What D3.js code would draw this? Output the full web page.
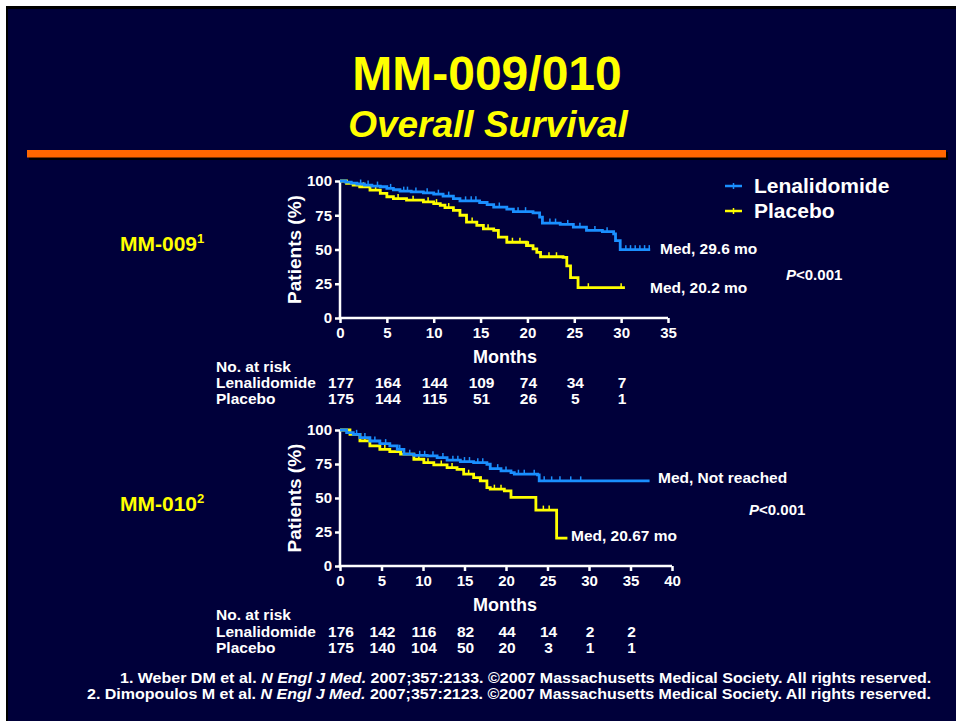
<!DOCTYPE html>
<html>
<head>
<meta charset="utf-8">
<script src="https://cdn.jsdelivr.net/npm/d3@7/dist/d3.min.js"></script>
<style>
  html, body { margin: 0; padding: 0; background: #ffffff; }
  svg { display: block; }
  text { font-family: "Liberation Sans", Arial, Helvetica, sans-serif; font-weight: bold; }
</style>
</head>
<body>
<svg id="slide" width="956" height="721"></svg>
<script>
// ---- Kaplan-Meier step points: [month, % surviving] ----
const mm009Lenalidomide = [[0,100],[0.6,99.2],[1.2,98.4],[1.8,97.8],[2.6,97],[3.4,96.3],[4.3,95.8],[5,94.6],[5.7,93.6],[6.4,92.6],[7.6,92],[8.9,91.4],[10,90.4],[11,89],[12.1,87.2],[12.8,85.5],[14.9,84.3],[15.7,82.8],[16.4,81],[17.8,79.4],[18.5,77.6],[20.6,76.7],[21.3,73.7],[21.6,69.3],[23.5,68.3],[24.9,66.3],[26.3,63.9],[28,63],[29.2,61.4],[29.4,56.5],[29.9,49.9],[33.1,49.9]];
const mm009Placebo = [[0,100],[0.7,98.3],[1.4,97],[2.1,95.8],[3.2,93.4],[4.3,90.9],[5,88.5],[5.7,87.2],[7.1,86],[8.9,84.8],[10,83.5],[10.7,82.3],[11.2,80.6],[12.1,78.6],[12.8,75],[13.5,70],[14.6,67.6],[15.3,65.1],[16.4,63.9],[16.9,59],[17.8,55.3],[19.9,52.8],[20.6,50.4],[21,47.9],[21.4,44.7],[23.8,44.2],[24.2,38],[24.6,29.5],[25.4,22.1],[30.4,22.1]];
const mm010Lenalidomide = [[0,100],[0.8,98],[1.6,96.8],[2.4,94.4],[3.6,91.9],[4.8,90],[6,88.3],[6.9,85.8],[7.7,82.2],[8.9,81.4],[10.5,81],[11.7,79.7],[12.9,77.8],[14.5,76.8],[16.1,76],[17.7,74.8],[18.1,71.6],[19.4,69.9],[20.6,68.7],[21,67.5],[23.8,67],[24,62.6],[37.3,62.6]];
const mm010Placebo = [[0,100],[1.2,96.8],[2.4,92],[3.6,88.3],[4.8,85.8],[6,84.1],[7.3,82.2],[8.9,78.5],[10.1,76],[11.3,74.3],[12.9,72.4],[14.1,71.1],[14.9,67.5],[16.1,65],[16.9,62.6],[17.7,57.7],[18.1,56.5],[19.8,55.3],[20.6,50.4],[23.6,41.1],[26.1,20.5],[27.4,20.5]];

// ---- censoring times (months) ----
const mm009LenCensor = [2.2,3,4,5.4,6.8,7.2,8.1,9.3,10.5,11.6,13.4,14,14.5,17,19,19.8,22.4,23,24.3,25.6,27.2,28.5,30.5,31,31.5,32,32.5,33];
const mm009PlaCensor = [2.5,3.8,6.2,7.8,9.4,10.3,11.6,14.1,15.8,18.4,19.2,20.1,22.3,23.1,26.5,30];
const mm010LenCensor = [2,3,4.2,5.5,7.2,8.4,9.6,10.2,11.2,12.4,13.6,14.2,15,15.6,16.6,17.2,19,20,21.5,22.2,23.4,24.6,25.5,26.5,27.8,29];
const mm010PlaCensor = [3,5.4,7.7,9.5,10.6,12.2,13.5,15.5,17,18.6,19.4,24.5,25.2];

// ---- axis ticks ----
const yTicks = [0, 25, 50, 75, 100];
const mm009MonthTicks = [0,5,10,15,20,25,30,35];
const mm010MonthTicks = [0,5,10,15,20,25,30,35,40];

// ---- numbers at risk ----
const mm009RiskMonths = [0,5,10,15,20,25,30];
const mm009RiskLen = [177,164,144,109,74,34,7];
const mm009RiskPla = [175,144,115,51,26,5,1];
const mm010RiskMonths = [0,5,10,15,20,25,30,35];
const mm010RiskLen = [176,142,116,82,44,14,2,2];
const mm010RiskPla = [175,140,104,50,20,3,1,1];

const seriesNames = ["Lenalidomide", "Placebo"];
const colLen = "#1a8fff";
const colPla = "#ffff00";
const navy = "#00003a";

const svg = d3.select("#slide");

// slide frame
svg.append("rect").attr("x", 6).attr("y", 6).attr("width", 950).attr("height", 715).attr("fill", "#000");
svg.append("rect").attr("x", 8).attr("y", 9).attr("width", 948).attr("height", 712).attr("fill", navy);

// titles
svg.append("text").attr("x", 487).attr("y", 90).attr("text-anchor", "middle")
  .attr("fill", "#ffff00").attr("font-size", 48).text("MM-009/010");
svg.append("text").attr("x", 488).attr("y", 137).attr("text-anchor", "middle")
  .attr("fill", "#ffff00").attr("font-size", 37).attr("font-style", "italic").text("Overall Survival");

// orange rule with shadow
svg.append("rect").attr("x", 29).attr("y", 152).attr("width", 919).attr("height", 8).attr("fill", "#000");
svg.append("rect").attr("x", 27).attr("y", 150).attr("width", 919).attr("height", 7.5).attr("fill", "#ff6600");

function stepValue(data, t) {
  let v = data[0][1];
  for (const d of data) { if (d[0] <= t) v = d[1]; else break; }
  return v;
}

function drawPanel(cfg) {
  const x = d3.scaleLinear().domain([0, cfg.xMax]).range([340, cfg.xRight]);
  const y = d3.scaleLinear().domain([0, 100]).range([cfg.yBottom, cfg.yTop]);
  const g = svg.append("g");

  const xAxis = g.append("g").attr("transform", `translate(0,${cfg.yBottom})`)
    .call(d3.axisBottom(x).tickValues(cfg.monthTicks).tickSize(5).tickSizeOuter(0).tickPadding(4));
  const yAxis = g.append("g").attr("transform", `translate(340,0)`)
    .call(d3.axisLeft(y).tickValues(yTicks).tickSize(5).tickSizeOuter(0).tickPadding(3));
  [xAxis, yAxis].forEach(a => {
    a.selectAll("path, line").attr("stroke", "#fff").attr("stroke-width", 2.5);
    a.selectAll("text").attr("fill", "#fff").attr("font-size", 15)
      .attr("font-family", "Liberation Sans, Arial, sans-serif").attr("font-weight", "bold");
  });
  xAxis.select(".domain").attr("d", `M338.75,0H${cfg.xRight}`);
  yAxis.select(".domain").attr("d", `M0,${cfg.yTop}V${cfg.yBottom + 1.25}`);

  g.append("text").attr("transform", `translate(${cfg.yLabelX},${(cfg.yTop + cfg.yBottom) / 2}) rotate(-90)`)
    .attr("text-anchor", "middle").attr("fill", "#fff").attr("font-size", 19).text("Patients (%)");
  g.append("text").attr("x", 505).attr("y", cfg.monthsY).attr("text-anchor", "middle")
    .attr("fill", "#fff").attr("font-size", 18).text("Months");

  const line = d3.line().x(d => x(d[0])).y(d => y(d[1])).curve(d3.curveStepAfter);
  const curves = [
    { data: cfg.pla, censor: cfg.plaCensor, color: colPla },
    { data: cfg.len, censor: cfg.lenCensor, color: colLen }
  ];
  curves.forEach(c => {
    g.append("path").datum(c.data).attr("d", line).attr("fill", "none")
      .attr("stroke", c.color).attr("stroke-width", 2.8).attr("stroke-linejoin", "miter");
    g.selectAll(null).data(c.censor).enter().append("line")
      .attr("x1", t => x(t)).attr("x2", t => x(t))
      .attr("y1", t => y(stepValue(c.data, t)) - 4.5)
      .attr("y2", t => y(stepValue(c.data, t)))
      .attr("stroke", c.color).attr("stroke-width", 1.5);
  });

  // numbers at risk
  const rt = g.append("g").attr("fill", "#fff").attr("font-size", 15.5);
  rt.append("text").attr("x", 216).attr("y", cfg.riskY[0]).text("No. at risk");
  rt.append("text").attr("x", 216).attr("y", cfg.riskY[1]).text(seriesNames[0]);
  rt.append("text").attr("x", 216).attr("y", cfg.riskY[2]).text(seriesNames[1]);
  [[cfg.riskLen, cfg.riskY[1]], [cfg.riskPla, cfg.riskY[2]]].forEach(([vals, yy]) => {
    rt.selectAll(null).data(vals).enter().append("text")
      .attr("x", (v, i) => x(cfg.riskMonths[i]) + 1).attr("y", yy)
      .attr("text-anchor", "middle").text(v => v);
  });
  return { x, y };
}

drawPanel({
  xMax: 35, xRight: 668, yTop: 181, yBottom: 318, yLabelX: 301, monthsY: 363,
  monthTicks: mm009MonthTicks, len: mm009Lenalidomide, pla: mm009Placebo,
  lenCensor: mm009LenCensor, plaCensor: mm009PlaCensor,
  riskMonths: mm009RiskMonths, riskLen: mm009RiskLen, riskPla: mm009RiskPla,
  riskY: [372, 388, 404]
});
drawPanel({
  xMax: 40, xRight: 672, yTop: 430, yBottom: 566, yLabelX: 301, monthsY: 611,
  monthTicks: mm010MonthTicks, len: mm010Lenalidomide, pla: mm010Placebo,
  lenCensor: mm010LenCensor, plaCensor: mm010PlaCensor,
  riskMonths: mm010RiskMonths, riskLen: mm010RiskLen, riskPla: mm010RiskPla,
  riskY: [620, 637, 653]
});

// study labels
function studyLabel(txt, sup, yy) {
  const t = svg.append("text").attr("x", 120).attr("y", yy).attr("fill", "#ffff00").attr("font-size", 21);
  t.append("tspan").text(txt);
  t.append("tspan").attr("font-size", 13).attr("dy", -8).text(sup);
}
studyLabel("MM-009", "1", 251);
studyLabel("MM-010", "2", 511);

// legend
const legend = svg.append("g");
[[seriesNames[0], colLen, 186], [seriesNames[1], colPla, 211]].forEach(([name, col, yy]) => {
  legend.append("line").attr("x1", 725).attr("x2", 742).attr("y1", yy).attr("y2", yy)
    .attr("stroke", col).attr("stroke-width", 2.5);
  legend.append("line").attr("x1", 733.5).attr("x2", 733.5).attr("y1", yy - 3).attr("y2", yy + 3)
    .attr("stroke", col).attr("stroke-width", 1.5);
  legend.append("text").attr("x", 754).attr("y", yy + 7).attr("fill", "#fff").attr("font-size", 21).text(name);
});

// annotations
const ann = svg.append("g").attr("fill", "#fff").attr("font-size", 15.5);
ann.append("text").attr("x", 660).attr("y", 254).text("Med, 29.6 mo");
ann.append("text").attr("x", 650).attr("y", 293).text("Med, 20.2 mo");
ann.append("text").attr("x", 658).attr("y", 483).text("Med, Not reached");
ann.append("text").attr("x", 571).attr("y", 541).text("Med, 20.67 mo");
function pValue(xx, yy) {
  const t = ann.append("text").attr("x", xx).attr("y", yy).attr("font-size", 15);
  t.append("tspan").attr("font-style", "italic").text("P");
  t.append("tspan").text("<0.001");
}
pValue(786, 280);
pValue(749, 515);

// references, stretched to span the full footer line
const refs = svg.append("g").attr("fill", "#fff").attr("font-size", 14.5);
function refLine(prefix, journal, suffix, yy, left) {
  const t = refs.append("text").attr("x", 0).attr("y", 0);
  t.append("tspan").text(prefix);
  t.append("tspan").attr("font-style", "italic").text(journal);
  t.append("tspan").text(suffix);
  const w = t.node().getComputedTextLength();
  const right = 932;
  t.attr("transform", `translate(${left},${yy}) scale(${(right - left) / w},1)`);
}
refLine("1. Weber DM et al. ", "N Engl J Med.", " 2007;357:2133. ©2007 Massachusetts Medical Society. All rights reserved.", 683, 120);
refLine("2. Dimopoulos M et al. ", "N Engl J Med.", " 2007;357:2123. ©2007 Massachusetts Medical Society. All rights reserved.", 699, 87);
</script>
</body>
</html>
